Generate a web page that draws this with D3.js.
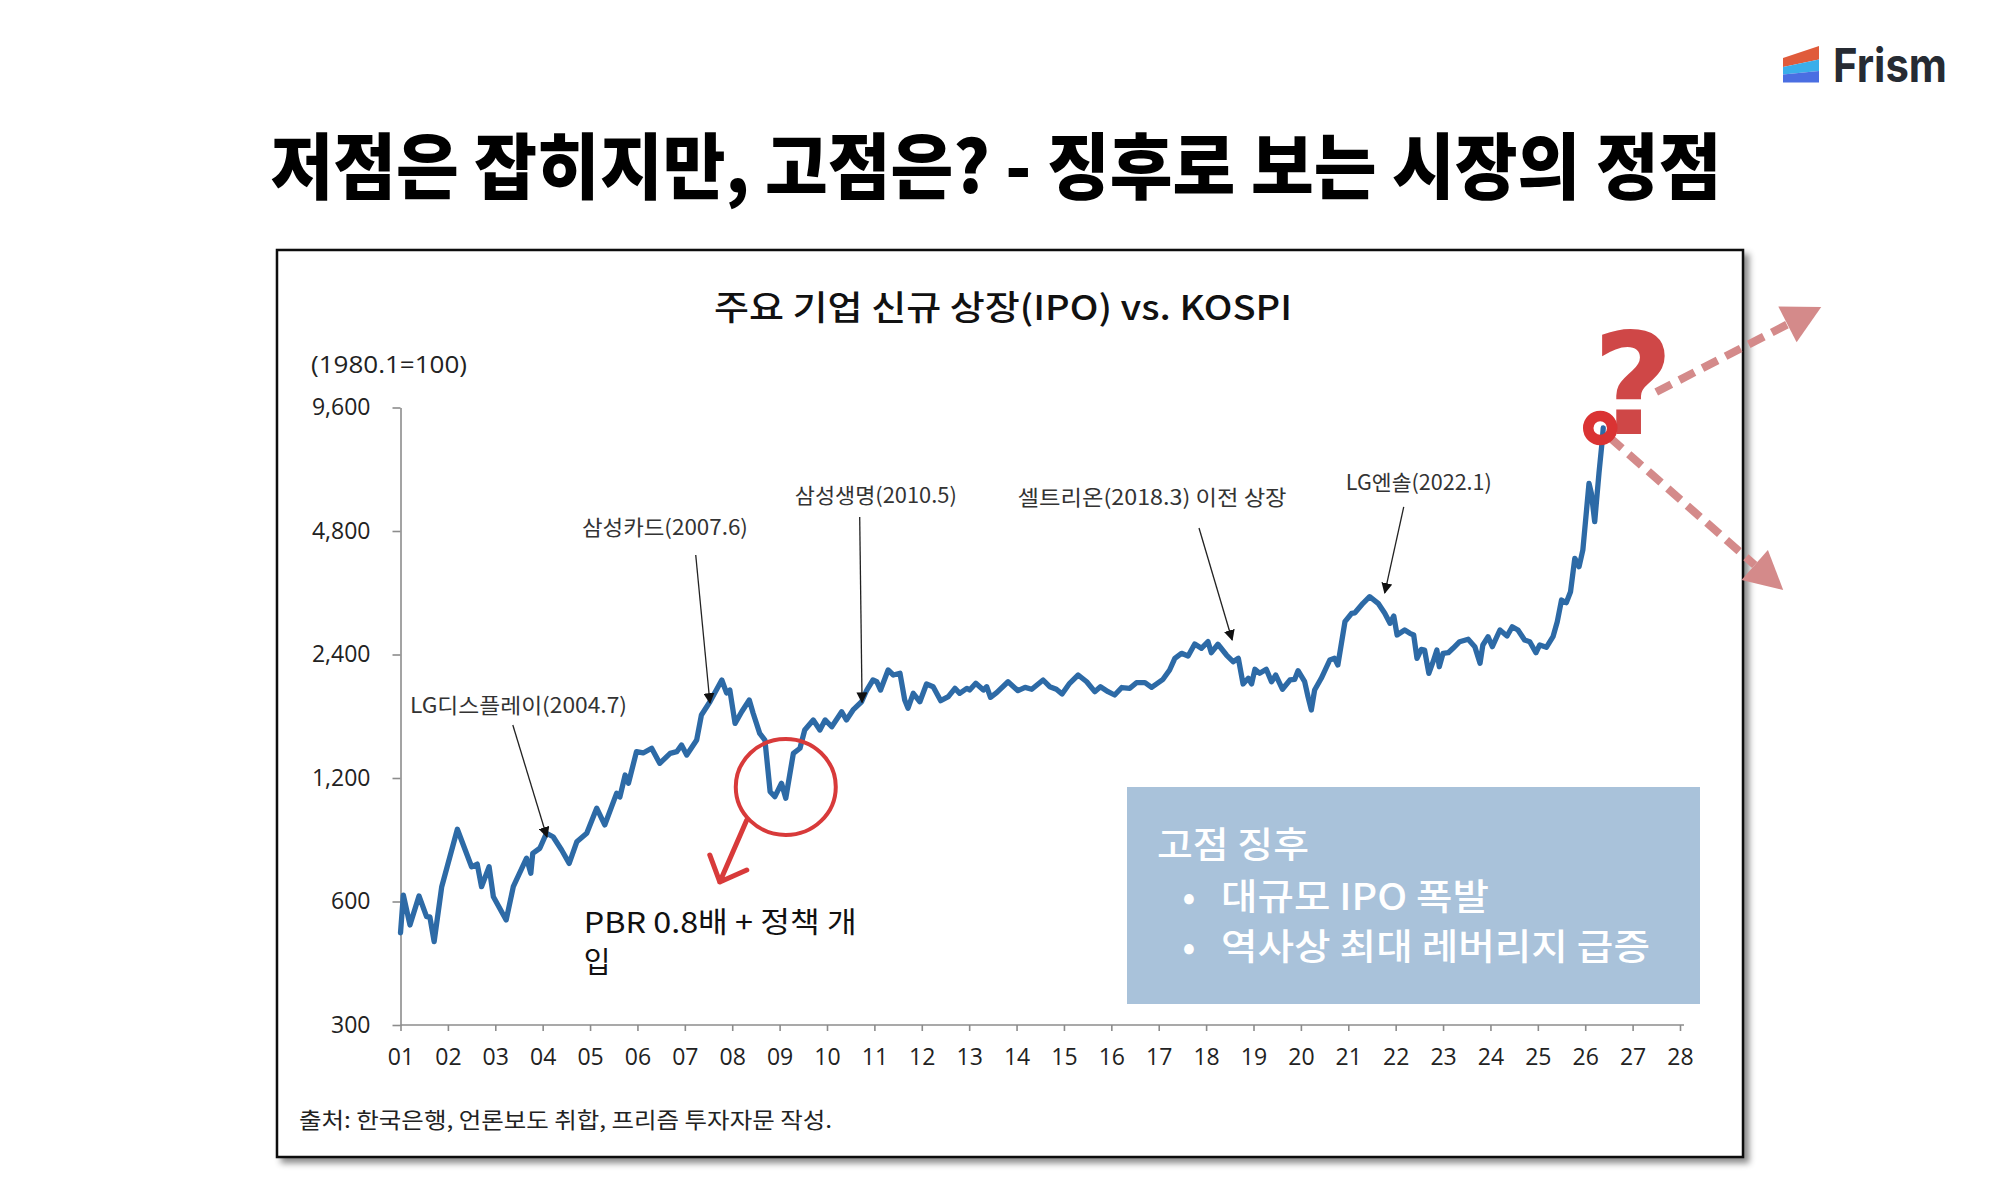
<!DOCTYPE html>
<html>
<head>
<meta charset="utf-8">
<script src="https://cdn.jsdelivr.net/npm/d3@7"></script>
<style>
  body { margin: 0; background: #fff; }
  svg { display: block; }
</style>
</head>
<body>
<div id="chart"></div>
<script>
// KOSPI index (1980.1 = 100)
const kospiDates = [2001.00,2001.06,2001.20,2001.39,2001.55,2001.62,2001.71,2001.87,2002.20,2002.50,
  2002.62,2002.71,2002.87,2002.96,2003.23,2003.38,2003.66,2003.75,2003.79,2003.94,
  2004.08,2004.22,2004.40,2004.56,2004.72,2004.93,2005.14,2005.31,2005.56,2005.63,
  2005.74,2005.81,2005.98,2006.12,2006.30,2006.47,2006.69,2006.83,2006.93,2007.04,
  2007.25,2007.35,2007.53,2007.78,2007.88,2007.95,2008.06,2008.20,2008.36,2008.44,
  2008.58,2008.69,2008.80,2008.90,2009.04,2009.13,2009.29,2009.43,2009.53,2009.71,
  2009.85,2009.96,2010.10,2010.31,2010.41,2010.55,2010.73,2010.84,2010.97,2011.05,
  2011.13,2011.29,2011.40,2011.54,2011.64,2011.71,2011.82,2011.96,2012.10,2012.24,
  2012.40,2012.56,2012.70,2012.80,2012.95,2013.01,2013.14,2013.30,2013.37,2013.45,
  2013.58,2013.82,2014.03,2014.18,2014.32,2014.56,2014.70,2014.84,2014.96,2015.12,
  2015.30,2015.48,2015.65,2015.77,2015.93,2016.07,2016.22,2016.39,2016.53,2016.71,
  2016.85,2017.09,2017.23,2017.34,2017.48,2017.62,2017.76,2017.90,2018.04,2018.11,
  2018.25,2018.43,2018.57,2018.68,2018.78,2018.89,2018.96,2019.03,2019.13,2019.27,
  2019.38,2019.47,2019.61,2019.77,2019.87,2019.94,2020.08,2020.15,2020.22,2020.29,
  2020.43,2020.61,2020.71,2020.78,2020.93,2021.07,2021.14,2021.31,2021.45,2021.63,
  2021.77,2021.88,2021.96,2022.03,2022.19,2022.30,2022.38,2022.45,2022.54,2022.61,
  2022.70,2022.79,2022.87,2022.92,2023.00,2023.11,2023.21,2023.35,2023.53,2023.67,
  2023.78,2023.84,2023.95,2024.04,2024.20,2024.35,2024.46,2024.58,2024.72,2024.83,
  2024.96,2025.04,2025.18,2025.32,2025.41,2025.50,2025.60,2025.69,2025.78,2025.87,
  2025.95,2026.08,2026.13,2026.20,2026.29,2026.36,2026.38];

const kospiValues = [503,622,526,619,551,550,479,652,900,729,
  740,652,729,616,541,652,765,703,786,809,
  880,863,801,743,839,880,1013,922,1101,1079,
  1220,1165,1391,1381,1418,1303,1378,1391,1444,1365,
  1485,1709,1841,2080,1934,1966,1631,1741,1859,1728,
  1542,1485,1111,1081,1165,1071,1378,1418,1571,1662,
  1571,1662,1600,1741,1662,1758,1841,1966,2080,2060,
  1966,2200,2139,2160,1859,1775,1930,1841,2034,2003,
  1852,1894,1985,1930,1985,1966,2042,1966,2003,1887,
  1937,2060,1959,1996,1975,2080,2003,1975,1923,2042,
  2139,2060,1948,2003,1948,1912,1994,1985,2049,2049,
  1996,2088,2200,2349,2416,2380,2546,2485,2579,2424,
  2542,2393,2305,2349,2034,2100,2034,2209,2160,2209,
  2060,2139,1975,2080,2088,2191,2060,1894,1758,1966,
  2100,2327,2349,2263,2885,3024,3033,3199,3320,3199,
  3024,2859,2979,2678,2754,2703,2678,2349,2471,2461,
  2160,2305,2461,2241,2416,2424,2485,2579,2614,2508,
  2284,2532,2652,2508,2754,2663,2805,2754,2604,2579,
  2424,2532,2499,2652,2885,3258,3209,3414,4118,3928,
  4315,6273,5931,5057,6636,7999,8557];

const yTicks = [300, 600, 1200, 2400, 4800, 9600];
const xTicks = d3.range(2001, 2029);
const xTickLabels = xTicks.map(d => String(d % 100).padStart(2, "0"));

// annotations: label, arrow tip, arrow tail and label centre as [year, index]
const annoLabels = ["LG디스플레이(2004.7)", "삼성카드(2007.6)", "삼성생명(2010.5)", "셀트리온(2018.3) 이전 상장", "LG엔솔(2022.1)"];
const annoTips = [[2004.09, 862], [2007.53, 1828], [2010.74, 1835], [2018.55, 2604], [2021.77, 3390]];
const annoTails = [[2003.37, 1616], [2007.23, 4196], [2010.69, 5192], [2017.85, 4882], [2022.17, 5493]];
const annoCentres = [[2003.49, 1798], [2006.58, 4882], [2011.03, 5842], [2016.86, 5776], [2022.49, 6284]];
const annoWidths = [217, 166, 162, 269, 146];

const troughPoint = [2009.13, 1141];
const noteLines = ["PBR 0.8배 + 정책 개", "입"];
const boxLines = ["고점 징후", "대규모 IPO 폭발", "역사상 최대 레버리지 급증"];

const W = 2000, H = 1196;
const svg = d3.select("#chart").append("svg")
  .attr("width", W)
  .attr("height", H);

const defs = svg.append("defs");
const shadow = defs.append("filter").attr("id", "shadow")
  .attr("x", "-5%").attr("y", "-5%").attr("width", "110%").attr("height", "110%");
shadow.append("feDropShadow")
  .attr("dx", 5).attr("dy", 5).attr("stdDeviation", 3)
  .attr("flood-color", "#000").attr("flood-opacity", 0.45);

defs.append("marker")
  .attr("id", "blackHead")
  .attr("viewBox", "0 0 10 10")
  .attr("refX", 9).attr("refY", 5)
  .attr("markerWidth", 11).attr("markerHeight", 11)
  .attr("markerUnits", "userSpaceOnUse")
  .attr("orient", "auto")
  .append("path")
  .attr("d", "M0,0 L10,5 L0,10 Z")
  .attr("fill", "#111");

// logo
const logo = svg.append("g");
logo.append("polygon").attr("points", "1783,58 1819,46 1819,59.5 1783,67").attr("fill", "#e05b3b");
logo.append("polygon").attr("points", "1783,67 1819,59.5 1819,71 1783,74.5").attr("fill", "#3aaeea");
logo.append("polygon").attr("points", "1783,74.5 1819,71 1819,82.5 1783,82.5").attr("fill", "#4a6ee2");
logo.append("text")
  .attr("x", 1833).attr("y", 82)
  .attr("font-family", "Inter, Roboto, sans-serif")
  .attr("font-weight", 700)
  .attr("font-size", 47)
  .attr("textLength", 114)
  .attr("lengthAdjust", "spacingAndGlyphs")
  .attr("fill", "#262b33")
  .text("Frism");

// main title
svg.append("text")
  .attr("x", 996).attr("y", 193)
  .attr("text-anchor", "middle")
  .attr("font-family", "'Noto Sans CJK KR', sans-serif")
  .attr("font-weight", 900)
  .attr("font-size", 72)
  .attr("textLength", 1451)
  .attr("lengthAdjust", "spacingAndGlyphs")
  .attr("fill", "#000")
  .text("저점은 잡히지만, 고점은? - 징후로 보는 시장의 정점");

// chart frame
svg.append("rect")
  .attr("x", 277).attr("y", 250)
  .attr("width", 1466).attr("height", 907)
  .attr("fill", "#fff")
  .attr("stroke", "#111")
  .attr("stroke-width", 2.5)
  .attr("filter", "url(#shadow)");

svg.append("text")
  .attr("x", 1003).attr("y", 320)
  .attr("text-anchor", "middle")
  .attr("font-family", "'Noto Sans CJK KR', sans-serif")
  .attr("font-weight", 500)
  .attr("font-size", 34)
  .attr("textLength", 578)
  .attr("lengthAdjust", "spacingAndGlyphs")
  .attr("fill", "#111")
  .text("주요 기업 신규 상장(IPO) vs. KOSPI");

svg.append("text")
  .attr("x", 311).attr("y", 373)
  .attr("font-family", "'Open Sans', sans-serif")
  .attr("font-size", 23)
  .attr("textLength", 156)
  .attr("lengthAdjust", "spacingAndGlyphs")
  .attr("fill", "#222")
  .text("(1980.1=100)");

// scales
const x = d3.scaleLinear().domain([2001, 2028]).range([400.5, 1680]);
const y = d3.scaleLog().base(2).domain([300, 9600]).range([1025, 407.5]);

const yAxis = svg.append("g")
  .attr("transform", `translate(${x(2001)},0)`)
  .call(d3.axisLeft(y).tickValues(yTicks).tickFormat(d3.format(",")).tickSize(8).tickSizeOuter(0).tickPadding(22));

const xAxis = svg.append("g")
  .attr("transform", `translate(0,${y(300)})`)
  .call(d3.axisBottom(x).tickValues(xTicks).tickFormat((d, i) => xTickLabels[i]).tickSize(6).tickSizeOuter(0).tickPadding(18));

[yAxis, xAxis].forEach(a => {
  a.select(".domain").attr("stroke", "#8c8c8c").attr("stroke-width", 1.6);
  a.selectAll(".tick line").attr("stroke", "#8c8c8c").attr("stroke-width", 1.6);
  a.selectAll(".tick text")
    .attr("font-family", "'Open Sans', sans-serif")
    .attr("font-size", 23)
    .attr("fill", "#222");
});
xAxis.select(".domain").attr("d", `M${x(2001)},0H${x(2028) + 4}`);

// KOSPI line
const series = kospiDates.slice(0, kospiValues.length).map((d, i) => [d, kospiValues[i]]);
const line = d3.line().x(d => x(d[0])).y(d => y(d[1]));
svg.append("path")
  .datum(series)
  .attr("d", line)
  .attr("fill", "none")
  .attr("stroke", "#2d6aa6")
  .attr("stroke-width", 5.3)
  .attr("stroke-linejoin", "round")
  .attr("stroke-linecap", "round");

// annotations
const anno = svg.append("g");
annoLabels.forEach((t, i) => {
  anno.append("line")
    .attr("x1", x(annoTails[i][0])).attr("y1", y(annoTails[i][1]))
    .attr("x2", x(annoTips[i][0])).attr("y2", y(annoTips[i][1]))
    .attr("stroke", "#222")
    .attr("stroke-width", 1.3)
    .attr("marker-end", "url(#blackHead)");
  anno.append("text")
    .attr("x", x(annoCentres[i][0])).attr("y", y(annoCentres[i][1]))
    .attr("dy", "0.35em")
    .attr("text-anchor", "middle")
    .attr("font-family", "'Noto Sans CJK KR', sans-serif")
    .attr("font-size", 21)
    .attr("textLength", annoWidths[i])
    .attr("lengthAdjust", "spacingAndGlyphs")
    .attr("fill", "#333")
    .text(t);
});

// 2009 trough circle and note
const cx = x(troughPoint[0]), cy = y(troughPoint[1]);
const red = "#d83a3a";
svg.append("ellipse")
  .attr("cx", cx).attr("cy", cy)
  .attr("rx", 50).attr("ry", 48)
  .attr("fill", "none")
  .attr("stroke", red)
  .attr("stroke-width", 4);
svg.append("path")
  .attr("d", `M${cx - 39},${cy + 33} L${cx - 66},${cy + 95} M${cx - 76},${cy + 68} L${cx - 66},${cy + 95} L${cx - 39},${cy + 83}`)
  .attr("fill", "none")
  .attr("stroke", red)
  .attr("stroke-width", 5)
  .attr("stroke-linecap", "round")
  .attr("stroke-linejoin", "round");
svg.append("text")
  .attr("x", cx - 202).attr("y", cy + 146)
  .attr("font-family", "'Noto Sans CJK KR', sans-serif")
  .attr("font-size", 29)
  .attr("textLength", 273)
  .attr("lengthAdjust", "spacingAndGlyphs")
  .attr("fill", "#111")
  .text(noteLines[0]);
svg.append("text")
  .attr("x", cx - 202).attr("y", cy + 186)
  .attr("font-family", "'Noto Sans CJK KR', sans-serif")
  .attr("font-size", 29)
  .attr("fill", "#111")
  .text(noteLines[1]);

// signal box
svg.append("rect")
  .attr("x", 1127).attr("y", 787)
  .attr("width", 573).attr("height", 217)
  .attr("fill", "#a9c2da");
const boxText = svg.append("g")
  .attr("font-family", "'Noto Sans CJK KR', sans-serif")
  .attr("font-weight", 500)
  .attr("font-size", 36)
  .attr("fill", "#fff");
boxText.append("text").attr("x", 1157).attr("y", 858)
  .attr("textLength", 152).attr("lengthAdjust", "spacingAndGlyphs").text(boxLines[0]);
[910, 960].forEach((by, i) => {
  boxText.append("text").attr("x", 1189).attr("y", by).attr("text-anchor", "middle").text("•");
  boxText.append("text").attr("x", 1221).attr("y", by)
    .attr("textLength", i === 0 ? 268 : 429).attr("lengthAdjust", "spacingAndGlyphs")
    .text(boxLines[i + 1]);
});

// source
svg.append("text")
  .attr("x", 299).attr("y", 1128)
  .attr("font-family", "'Noto Sans CJK KR', sans-serif")
  .attr("font-size", 22)
  .attr("textLength", 533)
  .attr("lengthAdjust", "spacingAndGlyphs")
  .attr("fill", "#222")
  .text("출처: 한국은행, 언론보도 취합, 프리즘 투자자문 작성.");

// peak marker, question mark and the two dashed arrows
const last = series[series.length - 1];
const px = x(last[0]) - 3, py = y(last[1]);
const pink = "#d48a8a";

function dashedArrow(x1, y1, x2, y2) {
  const ang = Math.atan2(y2 - y1, x2 - x1);
  const len = 38, half = 20;
  const bx = x2 - len * Math.cos(ang), by = y2 - len * Math.sin(ang);
  svg.append("line")
    .attr("x1", x1).attr("y1", y1).attr("x2", bx).attr("y2", by)
    .attr("stroke", pink)
    .attr("stroke-width", 8)
    .attr("stroke-dasharray", "17 9");
  const nx = -Math.sin(ang), ny = Math.cos(ang);
  svg.append("polygon")
    .attr("points", [[x2, y2], [bx + nx * half, by + ny * half], [bx - nx * half, by - ny * half]].map(p => p.join(",")).join(" "))
    .attr("fill", pink);
}
dashedArrow(px + 56, py - 36, px + 221, py - 121);
dashedArrow(px + 9, py + 9, px + 183, py + 162);

svg.append("text")
  .attr("x", px + 33).attr("y", py + 6)
  .attr("text-anchor", "middle")
  .attr("font-family", "'DejaVu Sans', sans-serif")
  .attr("font-weight", 700)
  .attr("font-size", 140)
  .attr("fill", "#cf4747")
  .text("?");

svg.append("circle")
  .attr("cx", px).attr("cy", py)
  .attr("r", 12)
  .attr("fill", "none")
  .attr("stroke", "#da3333")
  .attr("stroke-width", 10.5);
</script>
</body>
</html>
